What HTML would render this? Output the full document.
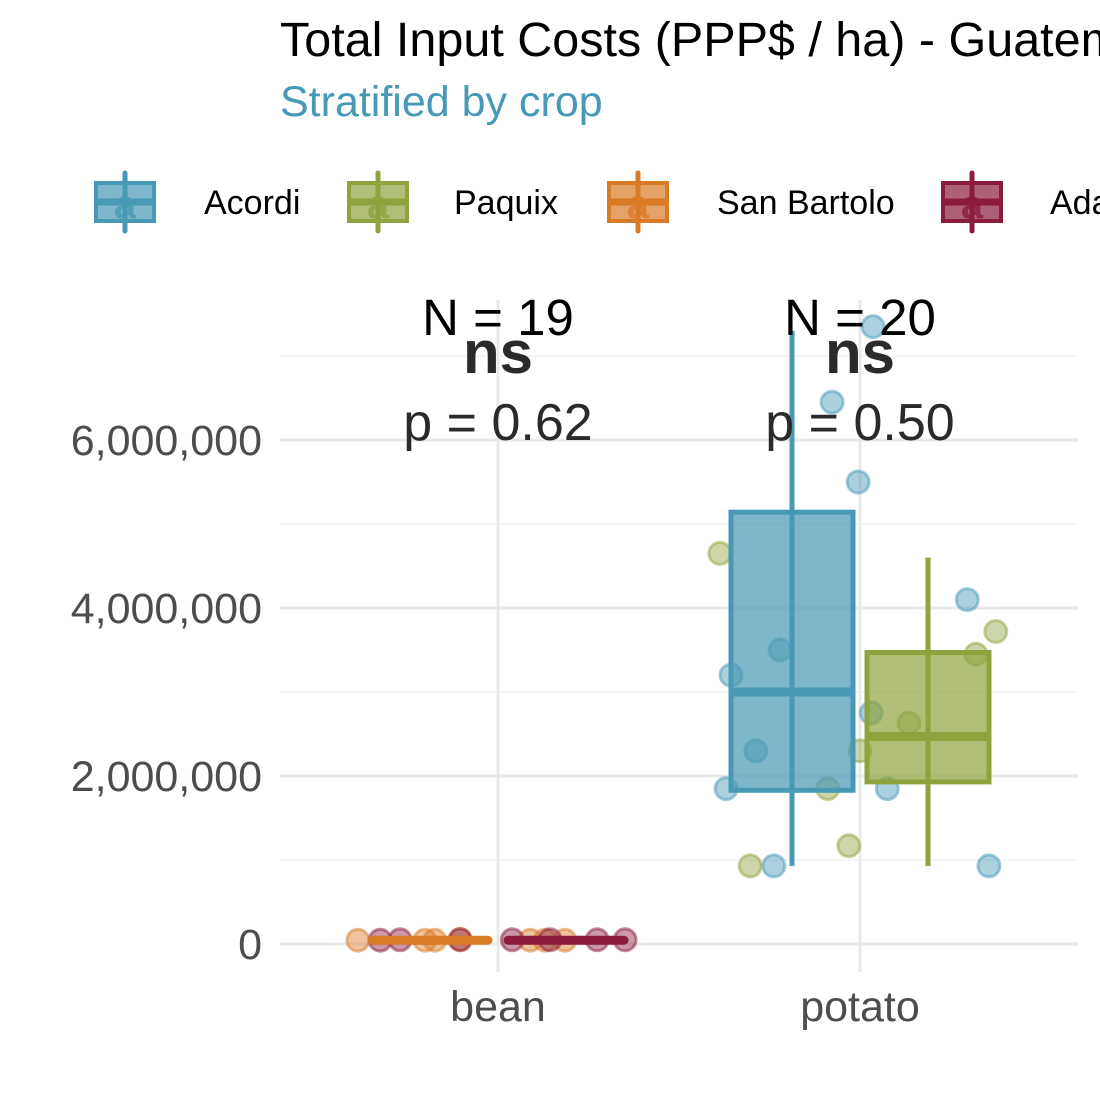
<!DOCTYPE html>
<html><head><meta charset="utf-8"><style>
body{margin:0;background:#fff;}
svg text{font-family:"Liberation Sans",sans-serif;}
</style></head><body>
<svg id="c" width="1100" height="1100" xmlns="http://www.w3.org/2000/svg">
<text x="280" y="56" font-size="48.5" fill="#000">Total Input Costs (PPP$ / ha) - Guatemala</text>
<text x="280" y="116" font-size="43" fill="#4799b5">Stratified by crop</text>
<g id="legend"></g>
<g id="grid"></g>
<g id="plot"></g>
</svg>
<script>
const categories = ["bean","potato"];
const groups = ["Acordi","Paquix","San Bartolo","Adamucha"];
const colors = ["#4799b5","#8ea33d","#d97b25","#8b1c3e"];
const yTicks = [0,2000000,4000000,6000000];
const yTickLabels = ["0","2,000,000","4,000,000","6,000,000"];
const nLabels = ["N = 19","N = 20"];
const pLabels = ["p = 0.62","p = 0.50"];
// boxes: [category, group, min, q1, median, q3, max]
const boxes = [
 [1,0,930000,1830000,3000000,5140000,7300000],
 [1,1,930000,1930000,2470000,3470000,4600000],
 [0,2,45000,45000,45000,45000,45000],
 [0,3,45000,45000,45000,45000,45000]
];
// points: category, group, jitter offset (relative to category centre), value
const ptCat = [1,1,1,1,1,1,1,1,1,1,1,1, 1,1,1,1,1,1,1,1, 0,0,0,0,0,0,0, 0,0,0,0,0,0,0];
const ptGrp = [0,0,0,0,0,0,0,0,0,0,0,0, 1,1,1,1,1,1,1,1, 2,2,2,2,2,2,2, 3,3,3,3,3,3,3];
const ptX =   [0.21,-0.45,-0.03,-2.08,-1.29,-2.16,-1.39,0.44,1.73,2.08,0.18,-1.68, -2.26,2.19,1.87,0.79,0,-0.52,-1.77,-0.18, -2.26,-1.18,-1.02,-0.61,0.52,0.76,1.08, -1.9,-1.58,-0.61,0.23,0.84,1.6,2.05];
const ptV =   [7350000,6450000,5500000,3200000,3500000,1850000,930000,1850000,4100000,930000,2750000,2300000, 4650000,3720000,3450000,2630000,2300000,1850000,930000,1170000, 45000,45000,45000,55000,45000,45000,45000, 45000,50000,50000,50000,50000,50000,50000];

const ns="http://www.w3.org/2000/svg";
const L=280,R=1078,T=300,B=972;
const xC = i => 498 + i*362;
const y = v => 944 - v/1000000*84;
const dodge = g => (g%2===0?-1:1)*68;
function mk(t,a,p){const e=document.createElementNS(ns,t);for(const k in a)e.setAttribute(k,a[k]);(p||document.getElementById('plot')).appendChild(e);return e;}
const grid=document.getElementById('grid');
for(let i=0;i<yTicks.length;i++){
 const v=yTicks[i]+1000000;
 const ln=mk('line',{x1:L,x2:R,y1:y(v),y2:y(v),stroke:'#efefef','stroke-width':1.2},grid);
 
 
}
yTicks.forEach((v,i)=>{
 const ln=mk('line',{x1:L,x2:R,y1:y(v),y2:y(v),stroke:'#e9e9e9','stroke-width':3},grid);
 
 
 const t=mk('text',{x:262,y:y(v)+15,'text-anchor':'end','font-size':43,fill:'#4d4d4d'},grid);
 t.textContent=yTickLabels[i];
 
 
});
categories.forEach((c,i)=>{
 const ln=mk('line',{x1:xC(i),x2:xC(i),y1:T,y2:B,stroke:'#e9e9e9','stroke-width':3},grid);
 
 
 const t=mk('text',{x:xC(i),y:1021,'text-anchor':'middle','font-size':43,fill:'#4d4d4d'},grid);
 t.textContent=c;
 
 
});
// points
ptV.forEach((v,i)=>{
 const g=ptGrp[i];
 const cx=xC(ptCat[i])+ptX[i]*62;
 const c=mk('circle',{cx:cx,cy:y(v),r:11,fill:colors[g],'fill-opacity':0.45,stroke:colors[g],'stroke-opacity':0.5,'stroke-width':3});
 
 
});
// boxes
boxes.forEach(b=>{
 const [ci,g,mn,q1,md,q3,mx]=b; const cx=xC(ci)+dodge(g); const col=colors[g];
 if(ci===0){
  const ln=mk('line',{x1:cx-58,x2:cx+58,y1:y(md),y2:y(md),stroke:col,'stroke-width':9,'stroke-linecap':'round'});
  
  
  return;
 }
 const w=mk('line',{x1:cx,x2:cx,y1:y(mx),y2:y(mn),stroke:col,'stroke-width':5});
 
 
 const r=mk('rect',{x:cx-61,y:y(q3),width:122,height:y(q1)-y(q3),fill:col,'fill-opacity':0.7,stroke:col,'stroke-width':5});
 
 
 const m=mk('line',{x1:cx-61,x2:cx+61,y1:y(md),y2:y(md),stroke:col,'stroke-width':9});
 
 
});
// annotations
categories.forEach((c,i)=>{
 const a=mk('text',{x:xC(i),y:335,'text-anchor':'middle','font-size':51,fill:'#000'});
 a.textContent=nLabels[i];
 
 
 const b=mk('text',{x:xC(i),y:373,'text-anchor':'middle','font-size':60,'font-weight':'bold',fill:'#2a2a2a'});
 b.textContent='ns';
 
 
 const p=mk('text',{x:xC(i),y:440,'text-anchor':'middle','font-size':52,fill:'#2a2a2a'});
 p.textContent=pLabels[i];
 
 
});
// legend
const lg=document.getElementById('legend');
const lx=[125,378,638,972], tx=[204,454,717,1050];
groups.forEach((g,i)=>{
 const k=mk('g',{},lg);
 
 
 mk('line',{x1:lx[i],x2:lx[i],y1:173,y2:231,stroke:colors[i],'stroke-width':5,'stroke-linecap':'round'},k);
 mk('rect',{x:lx[i]-29,y:183,width:58,height:38,fill:colors[i],'fill-opacity':0.7,stroke:colors[i],'stroke-width':4},k);
 mk('line',{x1:lx[i]-29,x2:lx[i]+29,y1:202,y2:202,stroke:colors[i],'stroke-width':7},k);
 const a=mk('text',{x:lx[i],y:218,'text-anchor':'middle','font-size':40,'font-weight':'bold',fill:colors[i],'fill-opacity':0.8},k);
 a.textContent='a';
 const t=mk('text',{x:tx[i],y:214,'font-size':34,fill:'#000'},k);
 t.textContent=g;
});
</script>
</body></html>
